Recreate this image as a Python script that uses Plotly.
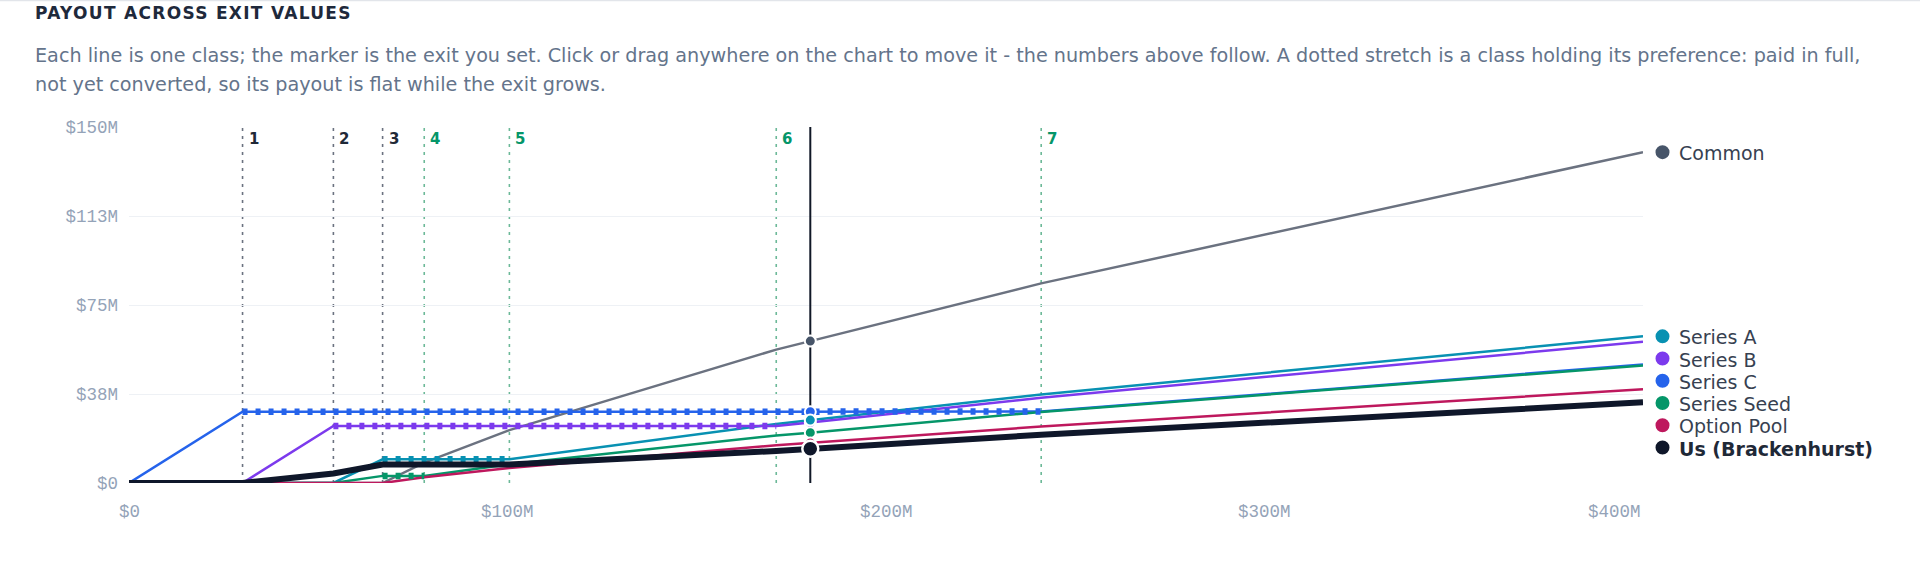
import plotly.graph_objects as go

# ---------------- data (values in $M) ----------------
exit_m = [0, 30, 54, 67, 78, 100.5, 171, 180, 241, 400]

series_names = ["Common", "Series A", "Series B", "Series C", "Series Seed", "Option Pool", "Us (Brackenhurst)"]
common      = [0, 0, 0, 0, 8.6, 22.3, 56.2, 59.8, 84.1, 139.4]
series_a    = [0, 0, 0, 10.0, 10.0, 10.0, 24.9, 26.5, 37.3, 61.8]
series_b    = [0, 0, 24.0, 24.0, 24.0, 24.0, 24.0, 25.5, 35.9, 59.5]
series_c    = [0, 30.0, 30.0, 30.0, 30.0, 30.0, 30.0, 30.0, 30.1, 49.9]
series_seed = [0, 0, 0, 3.0, 3.0, 7.9, 20.0, 21.2, 29.9, 49.5]
option_pool = [0, 0, 0, 0, 2.4, 6.3, 15.9, 16.9, 23.8, 39.5]
us          = [0, 0, 4.0, 7.8, 7.8, 7.8, 13.5, 14.4, 20.3, 34.0]

# preference held (flat, not yet converted) stretches: [start, end] in $M
hold_a    = [67, 100.5]
hold_b    = [54, 171]
hold_c    = [30, 241]
hold_seed = [67, 78]

threshold_x     = [30, 54, 67, 78, 100.5, 171, 241]
threshold_label = ["1", "2", "3", "4", "5", "6", "7"]
threshold_kind  = ["pref", "pref", "pref", "conv", "conv", "conv", "conv"]

marker_exit = 180

y_tick_vals = [0, 37.5, 75, 112.5, 150]
y_tick_text = ["$0", "$38M", "$75M", "$113M", "$150M"]
x_tick_vals = [0, 100, 200, 300, 400]
x_tick_text = ["$0", "$100M", "$200M", "$300M", "$400M"]

title_text = "PAYOUT ACROSS EXIT VALUES"
subtitle_lines = [
    "Each line is one class; the marker is the exit you set. Click or drag anywhere on the chart to move it - the numbers above follow. A dotted stretch is a class holding its preference: paid in full,",
    "not yet converted, so its payout is flat while the exit grows.",
]

# ---------------- styling ----------------
colors = {
    "Common": "#475569",
    "Series A": "#0891b2",
    "Series B": "#7c3aed",
    "Series C": "#2563eb",
    "Series Seed": "#059669",
    "Option Pool": "#be185d",
    "Us (Brackenhurst)": "#0f172a",
}
line_colors = dict(colors)
line_colors["Common"] = "#6b7280"

values = {
    "Common": common, "Series A": series_a, "Series B": series_b, "Series C": series_c,
    "Series Seed": series_seed, "Option Pool": option_pool, "Us (Brackenhurst)": us,
}
holds = {"Series C": hold_c, "Series B": hold_b, "Series A": hold_a, "Series Seed": hold_seed}

SANS = "DejaVu Sans"
MONO = "Liberation Mono"
TICK_COLOR = "#94a3b8"
GRID = "#eef1f5"

fig = go.Figure()

# marker (selected exit) vertical line
fig.add_trace(go.Scatter(x=[marker_exit, marker_exit], y=[0, 150], mode="lines",
                         line=dict(color="#111827", width=2), hoverinfo="skip", showlegend=False))

# solid lines for the classes
for name in ["Common", "Series A", "Series B", "Series C", "Series Seed", "Option Pool"]:
    fig.add_trace(go.Scatter(x=exit_m, y=values[name], mode="lines", name=name,
                             line=dict(color=line_colors[name], width=2.5),
                             showlegend=False))

# dotted stretches (held preference)
for name in ["Series Seed", "Series A", "Series B", "Series C"]:
    lo, hi = holds[name]
    xs = [x for x in exit_m if lo <= x <= hi]
    ys = [v for x, v in zip(exit_m, values[name]) if lo <= x <= hi]
    fig.add_trace(go.Scatter(x=xs, y=ys, mode="lines",
                             line=dict(color=colors[name], width=6.5, dash="5px,8px"),
                             hoverinfo="skip", showlegend=False))

# our line, thick
fig.add_trace(go.Scatter(x=exit_m, y=us, mode="lines", name="Us (Brackenhurst)",
                         line=dict(color=colors["Us (Brackenhurst)"], width=6),
                         showlegend=False))

# markers at the chosen exit
mi = exit_m.index(marker_exit)
for name in ["Common", "Series C", "Series B", "Series A", "Series Seed", "Option Pool", "Us (Brackenhurst)"]:
    big = name == "Us (Brackenhurst)"
    fig.add_trace(go.Scatter(x=[marker_exit], y=[values[name][mi]], mode="markers",
                             marker=dict(color=colors[name], size=16 if big else 11,
                                         line=dict(color="white", width=2.5 if big else 2)),
                             cliponaxis=False, hoverinfo="skip", showlegend=False))

shapes = []
annotations = []

# threshold lines + labels
for tx, tl, tk in zip(threshold_x, threshold_label, threshold_kind):
    c = "#6b7280" if tk == "pref" else "#6cb998"
    lc = "#1f2937" if tk == "pref" else "#059669"
    shapes.append(dict(type="line", xref="x", yref="paper", x0=tx, x1=tx, y0=0, y1=1,
                       line=dict(color=c, width=1.6, dash="3px,5px"), layer="below"))
    annotations.append(dict(x=tx, y=1, xref="x", yref="paper", text="<b>%s</b>" % tl,
                            showarrow=False, xanchor="left", yanchor="middle",
                            xshift=4, yshift=-12, font=dict(family=SANS, size=15, color=lc)))

# x tick labels
for i, (xv, xt) in enumerate(zip(x_tick_vals, x_tick_text)):
    annotations.append(dict(x=xv, y=0, xref="x", yref="y", text=xt, showarrow=False,
                            xanchor="right" if i == len(x_tick_vals) - 1 else "center",
                            yanchor="middle", yshift=-29,
                            font=dict(family=MONO, size=17.5, color=TICK_COLOR)))

# end-of-line labels, spread so they do not overlap
order = ["Common", "Series A", "Series B", "Series C", "Series Seed", "Option Pool", "Us (Brackenhurst)"]
order.sort(key=lambda n: -values[n][-1])
gap = 9.37
label_y = {}
prev = None
for n in order:
    yv = values[n][-1]
    if prev is not None and yv > prev - gap:
        yv = prev - gap
    label_y[n] = yv
    prev = yv
for n in order:
    shapes.append(dict(type="circle", xref="paper", yref="y", xsizemode="pixel", ysizemode="pixel",
                       xanchor=1, yanchor=label_y[n], x0=12.5, x1=26.5, y0=-7, y1=7,
                       fillcolor=colors[n], line=dict(width=0)))
    bold = n == "Us (Brackenhurst)"
    annotations.append(dict(x=1, y=label_y[n], xref="paper", yref="y",
                            text="<b>%s</b>" % n if bold else n, showarrow=False,
                            xanchor="left", yanchor="middle", xshift=34, yshift=-1,
                            font=dict(family=SANS, size=19, color="#1f2937" if bold else "#374151")))

# title + subtitle
annotations.append(dict(x=0, y=1, xref="paper", yref="paper",
                        text='<span style="letter-spacing:1.3px"><b>%s</b></span>' % title_text,
                        showarrow=False, xanchor="left", yanchor="middle", xshift=-96, yshift=114,
                        font=dict(family=SANS, size=17, color="#1e293b")))
for k, line in enumerate(subtitle_lines):
    annotations.append(dict(x=0, y=1, xref="paper", yref="paper", text=line, showarrow=False,
                            xanchor="left", yanchor="middle", xshift=-96, yshift=71.5 - 28.5 * k,
                            font=dict(family=SANS, size=19.2, color="#64748b")))

# top border line of the card
shapes.append(dict(type="line", xref="paper", yref="paper", x0=-0.1, x1=1.2, y0=1, y1=1,
                   ysizemode="pixel", yanchor=1, line=dict(color="#e2e5ea", width=1.5)))
shapes[-1].update(y0=126.5, y1=126.5)

fig.update_layout(
    width=1920, height=574,
    margin=dict(l=129, r=277, t=127, b=91),
    paper_bgcolor="white", plot_bgcolor="white",
    showlegend=False,
    shapes=shapes, annotations=annotations,
    xaxis=dict(range=[0, 400], showgrid=False, zeroline=False, showticklabels=False,
               ticks="", showline=False, fixedrange=True),
    yaxis=dict(range=[0, 150], tickvals=y_tick_vals, ticktext=y_tick_text,
               showgrid=True, gridcolor=GRID, gridwidth=1.2, zeroline=False, showline=False,
               ticks="", ticklabelstandoff=10,
               tickfont=dict(family=MONO, size=17.5, color=TICK_COLOR), fixedrange=True),
    font=dict(family=SANS),
)

fig.write_html("out.html", config={"displayModeBar": False},
               post_script="document.body.style.margin='0';")
